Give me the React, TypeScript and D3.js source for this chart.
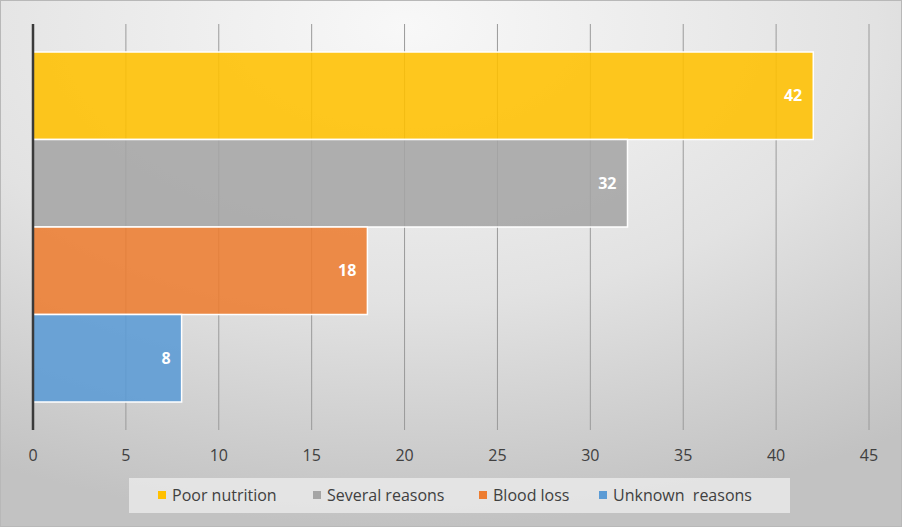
import React, { useRef, useEffect } from "react";
import * as d3 from "d3";

const series = ["Poor nutrition", "Several reasons", "Blood loss", "Unknown  reasons"];
const values = [42, 32, 18, 8];
const colors = ["#FFC000", "#A5A5A5", "#ED7D31", "#5B9BD5"];
const xTicks = [0, 5, 10, 15, 20, 25, 30, 35, 40, 45];

const W = 902;
const H = 527;
const font = "'Open Sans', 'Liberation Sans', sans-serif";

const App: React.FC = () => {
  const svgRef = useRef<SVGSVGElement | null>(null);

  useEffect(() => {
    const svg = d3.select(svgRef.current).attr("width", W).attr("height", H);
    svg.selectAll("*").remove();

    const defs = svg.append("defs");
    const grad = defs
      .append("radialGradient")
      .attr("id", "bg")
      .attr("cx", "45%")
      .attr("cy", "5%")
      .attr("r", "95%");
    grad.append("stop").attr("offset", "0%").attr("stop-color", "#f8f8f8");
    grad.append("stop").attr("offset", "55%").attr("stop-color", "#e2e2e2");
    grad.append("stop").attr("offset", "100%").attr("stop-color", "#c2c2c2");

    svg
      .append("rect")
      .attr("x", 0.5)
      .attr("y", 0.5)
      .attr("width", W - 1)
      .attr("height", H - 1)
      .attr("fill", "url(#bg)")
      .attr("stroke", "#b8b8b8");

    const top = 24;
    const bottom = 430;
    const x = d3.scaleLinear().domain([0, 45]).range([33, 869]);
    const y = d3.scaleBand<string>().domain(series).range([52, 402]).padding(0);

    // gridlines
    svg
      .append("g")
      .selectAll("line")
      .data(xTicks.slice(1))
      .enter()
      .append("line")
      .attr("x1", (d) => x(d))
      .attr("x2", (d) => x(d))
      .attr("y1", top)
      .attr("y2", bottom)
      .attr("stroke", "#9a9a9a")
      .attr("stroke-width", 1);

    // bars
    svg
      .append("g")
      .selectAll("rect")
      .data(values)
      .enter()
      .append("rect")
      .attr("x", x(0))
      .attr("y", (d, i) => y(series[i]) as number)
      .attr("width", (d) => x(d) - x(0))
      .attr("height", y.bandwidth())
      .attr("fill", (d, i) => colors[i])
      .attr("fill-opacity", 0.88)
      .attr("stroke", "#ffffff")
      .attr("stroke-width", 1.5);

    // data labels
    svg
      .append("g")
      .selectAll("text")
      .data(values)
      .enter()
      .append("text")
      .attr("x", (d) => x(d) - 11)
      .attr("y", (d, i) => (y(series[i]) as number) + y.bandwidth() / 2)
      .attr("dy", "0.35em")
      .attr("text-anchor", "end")
      .style("font-family", font)
      .style("font-size", "16px")
      .style("font-weight", "bold")
      .style("fill", "#ffffff")
      .text((d) => d);

    // value axis line
    svg
      .append("line")
      .attr("x1", x(0))
      .attr("x2", x(0))
      .attr("y1", top)
      .attr("y2", bottom)
      .attr("stroke", "#3a3a3a")
      .attr("stroke-width", 2.5);

    // tick labels
    svg
      .append("g")
      .selectAll("text")
      .data(xTicks)
      .enter()
      .append("text")
      .attr("x", (d) => x(d))
      .attr("y", 455)
      .attr("dy", "0.35em")
      .attr("text-anchor", "middle")
      .style("font-family", font)
      .style("font-size", "16px")
      .style("fill", "#404040")
      .text((d) => d);

    // legend
    svg
      .append("rect")
      .attr("x", 129)
      .attr("y", 478)
      .attr("width", 661)
      .attr("height", 35)
      .attr("fill", "#ebebeb")
      .attr("fill-opacity", 0.8);

    const legendX = [158, 313, 479, 599];
    const lg = svg
      .append("g")
      .selectAll("g")
      .data(series)
      .enter()
      .append("g")
      .attr("transform", (d, i) => `translate(${legendX[i]}, 495)`);
    lg.append("rect")
      .attr("x", 0)
      .attr("y", -4)
      .attr("width", 8)
      .attr("height", 8)
      .attr("fill", (d, i) => colors[i]);
    lg.append("text")
      .attr("x", 14)
      .attr("dy", "0.35em")
      .attr("xml:space", "preserve")
      .style("white-space", "pre")
      .style("font-family", font)
      .style("font-size", "16px")
      .style("fill", "#404040")
      .text((d) => d);
  }, []);

  return (
    <svg
      ref={svgRef}
      style={{ position: "absolute", left: 0, top: 0, display: "block" }}
    />
  );
};

export default App;
